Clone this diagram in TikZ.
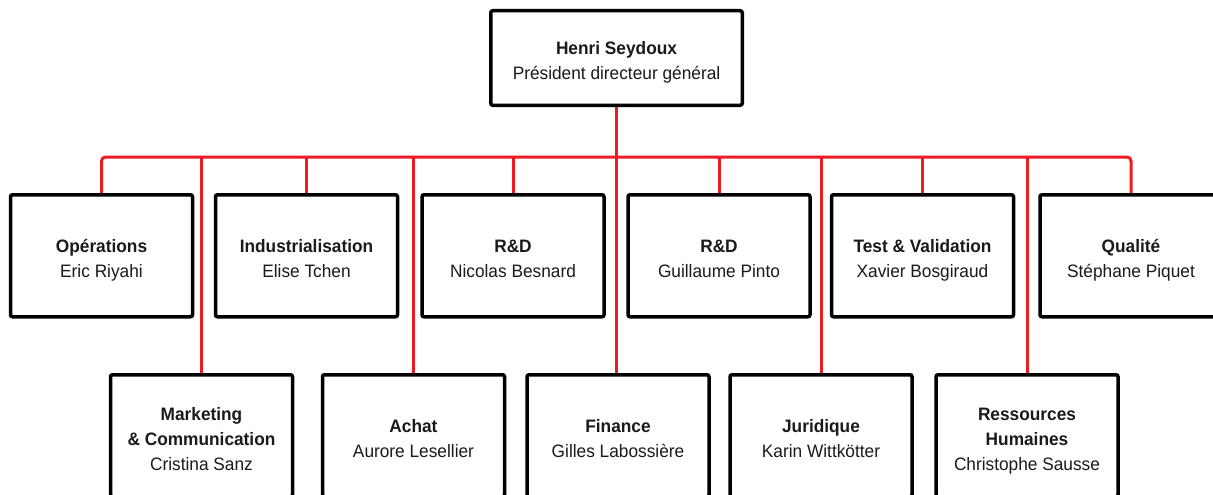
\documentclass[tikz,border=0pt]{standalone}
\usepackage{fontspec}
\setmainfont[FakeStretch=0.96]{Liberation Sans}
\usetikzlibrary{backgrounds}
\definecolor{linkred}{HTML}{ED1C24}
\definecolor{txt}{HTML}{1A1A1A}
\newcommand\orghead[1]{\rule{0pt}{26pt}\textbf{#1}}
\newcommand\orglast[1]{#1\rule[-7.5pt]{0pt}{7.5pt}}
\begin{document}
\begin{tikzpicture}[x=1pt,y=-1pt,
  box/.style={draw=black, fill=white, line width=3.5pt, rounded corners=2pt,
    minimum width=182pt, minimum height=122pt, inner sep=0pt, align=center,
    text=txt, font=\fontsize{18}{25}\selectfont},
  topbox/.style={box, minimum width=251.5pt, minimum height=94.5pt},
  conn/.style={draw=linkred, line width=3pt}]
\useasboundingbox (0,0) rectangle (1213,495);
% nodes
\node[topbox] (ceo) at (616.5,58) {\orghead{Henri Seydoux}\\\orglast{Président directeur général}};
\node[box] (ops) at (101.5,255.75) {\orghead{Opérations}\\\orglast{Eric Riyahi}};
\node[box] (ind) at (306.5,255.75) {\orghead{Industrialisation}\\\orglast{Elise Tchen}};
\node[box] (rd1) at (513,255.75) {\orghead{R\&D}\\\orglast{Nicolas Besnard}};
\node[box] (rd2) at (719,255.75) {\orghead{R\&D}\\\orglast{Guillaume Pinto}};
\node[box] (tst) at (922.5,255.75) {\orghead{Test \& Validation}\\\orglast{Xavier Bosgiraud}};
\node[box] (qal) at (1131,255.75) {\orghead{Qualité}\\\orglast{Stéphane Piquet}};
\node[box] (mkt) at (201.5,435.75) {\orghead{Marketing}\\\textbf{\& Communication}\\\orglast{Cristina Sanz}};
\node[box] (ach) at (413.5,435.75) {\orghead{Achat}\\\orglast{Aurore Lesellier}};
\node[box] (fin) at (618,435.75) {\orghead{Finance}\\\orglast{Gilles Labossière}};
\node[box] (jur) at (821,435.75) {\orghead{Juridique}\\\orglast{Karin Wittkötter}};
\node[box] (rh) at (1027,435.75) {\orghead{Ressources}\\\textbf{Humaines}\\\orglast{Christophe Sausse}};
\coordinate (bus) at (616.5,157);
% connectors (behind boxes)
\begin{pgfonlayer}{background}
\draw[conn] (ceo.south) -- (ceo.south |- fin.north);
\draw[conn, rounded corners=4pt] (ops.north) |- (bus) -| (qal.north);
\foreach \n in {ind,rd1,rd2,tst}{
  \draw[conn] (\n.north) -- (\n.north |- bus);
}
\foreach \n in {mkt,ach,jur,rh}{
  \draw[conn] (\n.north) -- (\n.north |- bus);
}
\end{pgfonlayer}
\end{tikzpicture}
\end{document}
